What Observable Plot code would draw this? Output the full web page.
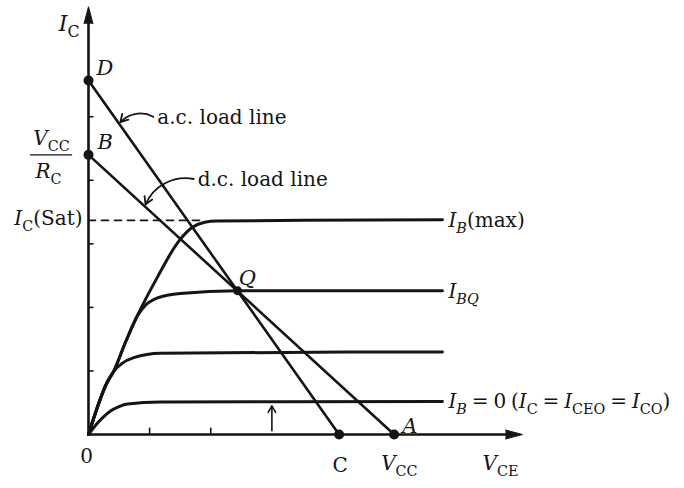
<!DOCTYPE html>
<html>
<head>
<meta charset="utf-8">
<script src="https://cdn.jsdelivr.net/npm/d3@7"></script>
<script src="https://cdn.jsdelivr.net/npm/@observablehq/plot@0.6"></script>
<style>
  html, body { margin: 0; padding: 0; background: #fff; }
  #chart svg { display: block; }
</style>
</head>
<body>
<div id="chart"></div>
<script>
// Collector characteristics (I_C against V_CE) of a CE transistor stage,
// with the d.c. and a.c. load lines and the operating point Q.
// Both axes are in arbitrary units.

// Base-current curves as [V_CE, I_C] pairs
const curveIbMax = [[0,0],[0.31,0.83],[0.41,0.99],[0.6,1.44],[0.8,1.87],[1.13,2.48],[1.46,3.02],[1.7,3.26],[1.9,3.34],[2.1,3.36],[3.5,3.37],[5.79,3.38]];
const curveIbQ   = [[0,0],[0.31,0.83],[0.41,0.99],[0.6,1.44],[0.8,1.87],[0.95,2.05],[1.13,2.15],[1.5,2.22],[2.44,2.26],[5.79,2.26]];
const curveIb1   = [[0,0],[0.31,0.83],[0.41,0.99],[0.55,1.12],[0.74,1.21],[1.18,1.28],[5.79,1.30]];
const curveIb0   = [[0,0],[0.12,0.15],[0.25,0.28],[0.36,0.37],[0.5,0.44],[0.64,0.48],[1.18,0.51],[5.79,0.52]];
const curves = [curveIbMax, curveIbQ, curveIb1, curveIb0];

// Curve names (markup: *x* italic, _{x} subscript, _[x] italic subscript)
const curveLabels = ["*I*_[B](max)", "*I*_[BQ]", "", "*I*_[B] = 0 (*I*_{C} = *I*_{CEO} = *I*_{CO})"];

// Load-line end points and the operating point
const pointD = [0, 5.57];   // a.c. load line on the I_C axis
const pointC = [4.1, 0];    // a.c. load line on the V_CE axis
const pointB = [0, 4.4];    // d.c. load line on the I_C axis (V_CC / R_C)
const pointA = [5.0, 0];    // d.c. load line on the V_CE axis (V_CC)
const pointQ = [2.44, 2.26];

const icSat = 3.37;         // I_C(Sat)
const icSatKnee = 1.85;     // where the I_B(max) curve levels off

const xTicks = [1, 2];
const yTicks = [1, 2, 3, 4, 5];
const iceoMark = [3, 0.06, 0.45];   // V_CE, arrow from, arrow to (I_CEO)
const xMax = 7.1, yMax = 6.73;

// Call-outs for the two load lines: label, label anchor, V_CE where the arrow meets the line
const callouts = [
  {text: "a.c. load line", from: [1.06, 5.0], atX: 0.5, line: [pointD, pointC]},
  {text: "d.c. load line", from: [1.72, 4.02], atX: 0.92, line: [pointB, pointA]}
];
const fractionBar = [-0.95, -0.26];

const ink = "#151515";
const lineAt = ([[x0, y0], [x1, y1]], x) => y0 + (y1 - y0) * (x - x0) / (x1 - x0);

const label = (x, y, text, o = {}) =>
  Plot.text([{x, y, text}], {x: "x", y: "y", text: "text", lineAnchor: "bottom", fill: ink, ...o});

const curveEnds = curves.map((c, i) => ({x: c[c.length - 1][0], y: c[c.length - 1][1], text: curveLabels[i]}))
  .filter(d => d.text);

const plot = Plot.plot({
  width: 684,
  height: 488,
  marginLeft: 88,
  marginRight: 162,
  marginTop: 5,
  marginBottom: 54,
  x: {domain: [0, xMax], axis: null},
  y: {domain: [0, 6.75], axis: null},
  style: {fontFamily: "'DejaVu Serif', serif", fontSize: "20px", color: ink, background: "#fff"},
  marks: [
    // axes with filled arrowheads
    Plot.ruleX([0], {y1: 0, y2: yMax - 0.1, stroke: ink, strokeWidth: 2.6}),
    Plot.ruleY([0], {x1: 0, x2: xMax - 0.1, stroke: ink, strokeWidth: 2.6}),
    Plot.vector([[0, yMax]], {x: d => d[0], y: d => d[1], shape: "spike", anchor: "end", length: 17, r: 4.5, rotate: 0, fill: ink, stroke: ink, strokeWidth: 1}),
    Plot.vector([[xMax, 0]], {x: d => d[0], y: d => d[1], shape: "spike", anchor: "end", length: 17, r: 4.5, rotate: 90, fill: ink, stroke: ink, strokeWidth: 1}),
    Plot.ruleX(xTicks, {y1: 0, y2: 0.1, stroke: ink, strokeWidth: 1.6}),
    Plot.ruleY(yTicks, {x1: 0, x2: 0.09, stroke: ink, strokeWidth: 1.6}),

    // I_C(Sat) level
    Plot.line([[0, icSat], [icSatKnee, icSat]], {stroke: ink, strokeWidth: 1.8, strokeDasharray: "7,6"}),

    // characteristic curves
    ...curves.map(c => Plot.line(c, {curve: "monotone-x", stroke: ink, strokeWidth: 3})),

    // load lines
    Plot.line([pointD, pointC], {stroke: ink, strokeWidth: 2.6}),
    Plot.line([pointB, pointA], {stroke: ink, strokeWidth: 2.6}),

    // I_CEO marker
    Plot.arrow([iceoMark], {x1: d => d[0], y1: d => d[1], x2: d => d[0], y2: d => d[2], stroke: ink, strokeWidth: 1.6, headLength: 7}),

    // call-out arrows
    Plot.arrow(callouts, {
      x1: d => d.from[0], y1: d => d.from[1],
      x2: d => d.atX, y2: d => lineAt(d.line, d.atX),
      bend: -40, headLength: 7, insetEnd: 2, stroke: ink, strokeWidth: 1.8
    }),
    Plot.text(callouts, {x: d => d.from[0], y: d => d.from[1], text: "text", textAnchor: "start", lineAnchor: "bottom", dx: 4, dy: 7, fill: ink}),

    // marked points
    Plot.dot([pointD, pointB, pointC, pointA], {x: d => d[0], y: d => d[1], r: 5, fill: ink}),
    Plot.dot([pointQ], {x: d => d[0], y: d => d[1], r: 4.5, fill: ink}),

    // point and axis labels
    label(0, yMax, "*I*_{C}", {textAnchor: "end", dx: -9, dy: 24, fontSize: 22}),
    label(...pointD, "*D*", {textAnchor: "start", dx: 8, dy: -5, fontSize: 21}),
    label(...pointB, "*B*", {textAnchor: "start", dx: 9, dy: -6, fontSize: 21}),
    label(...pointB, "*V*_{CC}", {textAnchor: "middle", dx: -37, dy: -10}),
    label(...pointB, "*R*_{C}", {textAnchor: "middle", dx: -40, dy: 23}),
    Plot.ruleY([pointB[1]], {x1: fractionBar[0], x2: fractionBar[1], stroke: ink, strokeWidth: 1.4}),
    label(0, icSat, "*I*_{C}(Sat)", {textAnchor: "end", dx: -6, dy: 5}),
    label(...pointQ, "*Q*", {textAnchor: "start", dx: 1, dy: -6, fontSize: 21}),
    label(0, 0, "0", {textAnchor: "middle", dx: -2, dy: 28}),
    label(...pointC, "C", {textAnchor: "middle", dx: 1, dy: 37}),
    label(...pointA, "*V*_{CC}", {textAnchor: "start", dx: -13, dy: 35}),
    label(...pointA, "*A*", {textAnchor: "start", dx: 8, dy: -2, fontSize: 21}),
    label(xMax, 0, "*V*_{CE}", {textAnchor: "start", dx: -40, dy: 35}),

    // curve names
    Plot.text(curveEnds, {x: "x", y: "y", text: "text", textAnchor: "start", lineAnchor: "bottom", dx: 6, dy: 7, fill: ink, style: "word-spacing:-1.5px"})
  ]
});

document.getElementById("chart").append(plot);

// Turn the small markup in the labels into italic and subscript tspans
function applyRichText(svg) {
  d3.select(svg).selectAll("text").each(function () {
    const el = this;
    const src = el.textContent;
    if (!/[*_]/.test(src)) return;
    const fs = parseFloat(getComputedStyle(el).fontSize) || 20;
    const shift = 0.3 * fs;
    el.textContent = "";
    let lowered = false;
    for (const tok of src.match(/_\{[^}]*\}|_\[[^\]]*\]|\*[^*]*\*|[^*_]+/g)) {
      let body = tok, sub = false, italic = false;
      if (tok.startsWith("_{")) { body = tok.slice(2, -1); sub = true; }
      else if (tok.startsWith("_[")) { body = tok.slice(2, -1); sub = true; italic = true; }
      else if (tok.startsWith("*")) { body = tok.slice(1, -1); italic = true; }
      const t = d3.select(el).append("tspan").text(body);
      if (italic) t.attr("font-style", "italic");
      if (sub) {
        t.attr("font-size", (0.72 * fs) + "px");
        if (!lowered) t.attr("dy", shift);
        lowered = true;
      } else if (lowered) {
        t.attr("dy", -shift);
        lowered = false;
      }
    }
  });
  // curve names use slightly tighter word spacing
  d3.select(svg).selectAll("text").filter(function () { return /I(B|BQ)/.test(this.textContent) && this.getAttribute("text-anchor") !== "end"; })
    .style("word-spacing", "-1.5px");
}
applyRichText(plot);
</script>
</body>
</html>
